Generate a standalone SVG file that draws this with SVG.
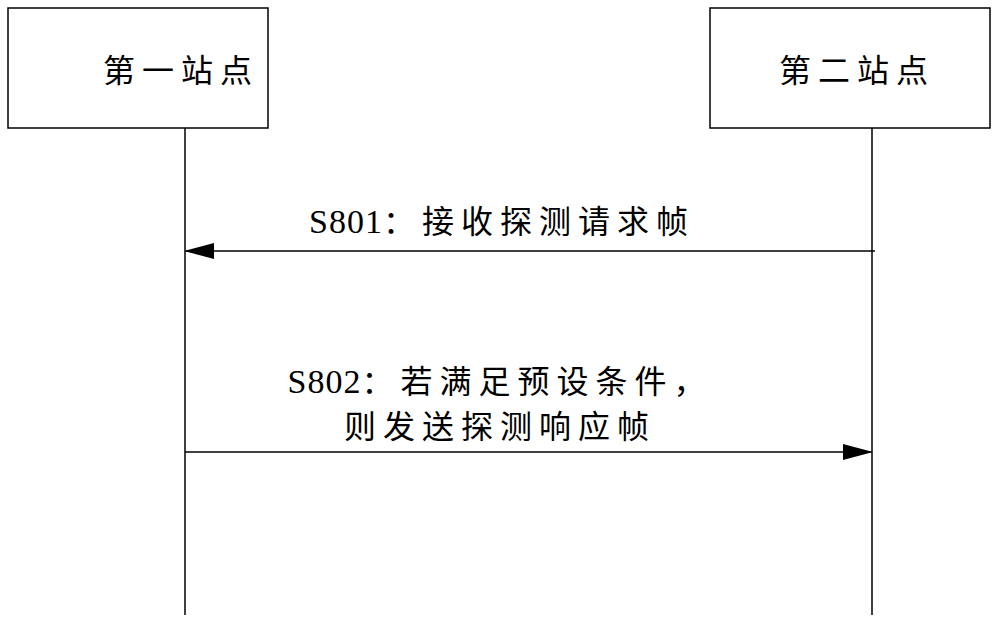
<svg xmlns="http://www.w3.org/2000/svg" width="1000" height="622" viewBox="0 0 1000 622">
<style>
.box{fill:#fff;stroke:#000;stroke-width:1.5}
.ln{stroke:#000;stroke-width:1.5;fill:none}
text{font-family:"Liberation Serif","Noto Sans CJK SC",serif;font-size:32px;letter-spacing:7px;fill:#000;text-anchor:middle}
.lat{letter-spacing:1px;font-size:34px}
</style>
<defs>
<marker id="ah" markerWidth="30" markerHeight="16" refX="28" refY="8" orient="auto" markerUnits="userSpaceOnUse">
<path d="M0,0 L30,8 L0,16 Z" fill="#000"/>
</marker>
</defs>
<rect width="1000" height="622" fill="#fff"/>
<g id="n1"><rect class="box" x="8" y="8" width="260" height="120"/><text x="181" y="82">第一站点</text></g>
<g id="n2"><rect class="box" x="710" y="8" width="280" height="120"/><text x="857" y="82">第二站点</text></g>
<g id="connectors">
<line class="ln" x1="185" y1="128" x2="185" y2="615"/>
<line class="ln" x1="872" y1="128" x2="872" y2="615"/>
<line class="ln" x1="875" y1="251" x2="186" y2="251" marker-end="url(#ah)"/>
<line class="ln" x1="185" y1="452" x2="871" y2="452" marker-end="url(#ah)"/>
</g>
<text x="502" y="233"><tspan class="lat">S801</tspan>：接收探测请求帧</text>
<text x="500" y="393"><tspan class="lat">S802</tspan>：若满足预设条件，</text>
<text x="500" y="438">则发送探测响应帧</text>
</svg>
